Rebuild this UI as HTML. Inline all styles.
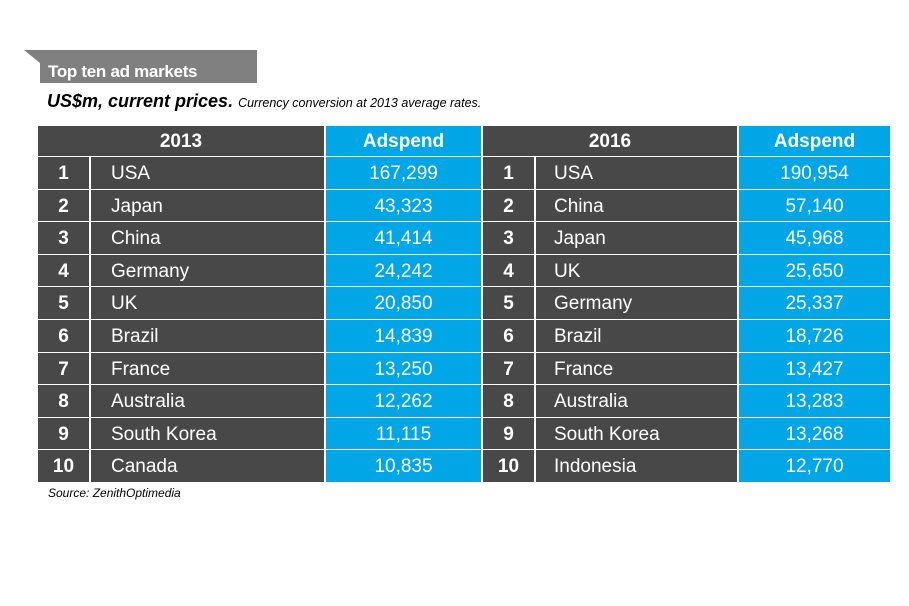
<!DOCTYPE html>
<html><head><meta charset="utf-8"><style>
body{margin:0;width:909px;height:606px;background:#fff;position:relative;overflow:hidden;font-family:"Liberation Sans",sans-serif}
.a{position:absolute;box-sizing:border-box}
.c{position:absolute;box-sizing:border-box;color:#fff;font-size:19px;padding-top:2px}
.d{background:#484848}.b{background:#00a6e6}
</style></head><body>
<svg class="a" style="left:0;top:0" width="300" height="90"><polygon points="24,50 257,50 257,83 40,83 40,63" fill="#808080"/></svg>
<div class="a" style="left:48px;top:62px;color:#fff;font-weight:bold;font-size:17px;letter-spacing:-0.3px">Top ten ad markets</div>
<div class="a" style="left:47px;top:91px;font-size:18px;font-weight:bold;font-style:italic;color:#000">US$m, current prices. <span style="font-size:12.5px;font-weight:normal">Currency conversion at 2013 average rates.</span></div>
<div id="t"></div>
<div class="a" style="left:48px;top:486px;font-size:12px;font-style:italic;color:#000">Source: ZenithOptimedia</div>
<script>
var L=[["USA","167,299"],["Japan","43,323"],["China","41,414"],["Germany","24,242"],["UK","20,850"],["Brazil","14,839"],["France","13,250"],["Australia","12,262"],["South Korea","11,115"],["Canada","10,835"]];
var R=[["USA","190,954"],["China","57,140"],["Japan","45,968"],["UK","25,650"],["Germany","25,337"],["Brazil","18,726"],["France","13,427"],["Australia","13,283"],["South Korea","13,268"],["Indonesia","12,770"]];
var h="";
function cell(x,y,w,hh,cls,txt,al,bold,pad){h+='<div class="c '+cls+'" style="left:'+x+'px;top:'+y+'px;width:'+w+'px;height:'+hh+'px;line-height:'+(hh-2)+'px;text-align:'+al+';'+(bold?'font-weight:bold;':'')+(pad?'padding-left:'+pad+'px;':'')+'">'+txt+'</div>';}
cell(38,126,286,30,"d","2013","center",1);
cell(326,126,155,30,"b","Adspend","center",1);
cell(483,126,254,30,"d","2016","center",1);
cell(739,126,151,30,"b","Adspend","center",1);
for(var i=0;i<10;i++){var y=Math.round(157+i*32.6);var y2=Math.round(157+(i+1)*32.6)-1;var hh=y2-y;
cell(38,y,51,hh,"d",i+1,"center",1);
cell(91,y,233,hh,"d",L[i][0],"left",0,20);
cell(326,y,155,hh,"b",L[i][1],"center",0);
cell(483,y,51,hh,"d",i+1,"center",1);
cell(536,y,201,hh,"d",R[i][0],"left",0,18);
cell(739,y,151,hh,"b",R[i][1],"center",0);}
document.getElementById("t").outerHTML=h;
</script>
</body></html>
